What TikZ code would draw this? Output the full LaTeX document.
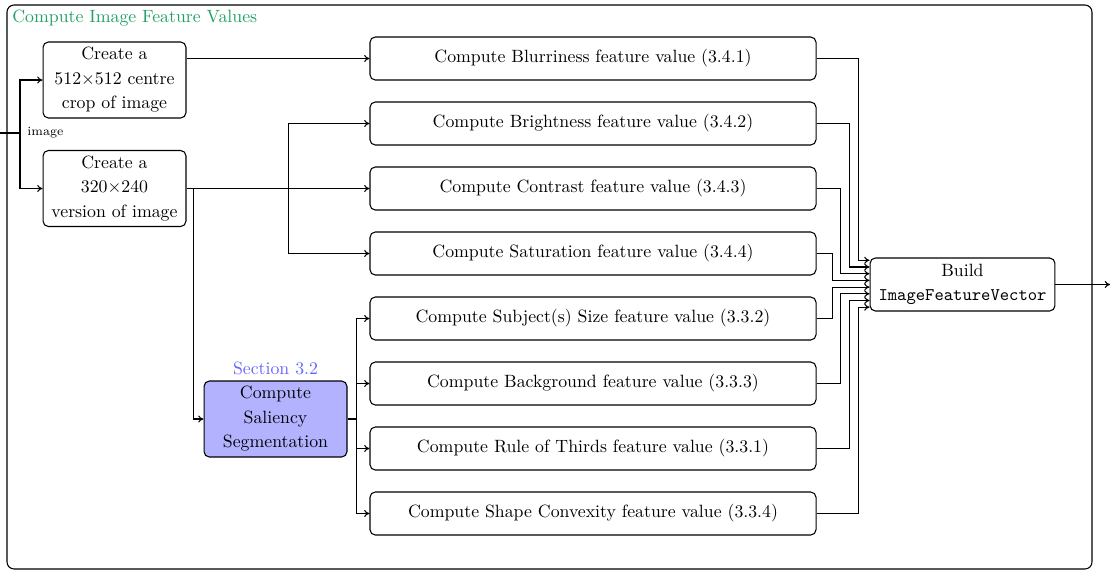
\documentclass[tikz,border=0pt]{standalone}
\usetikzlibrary{calc,arrows.meta}
\definecolor{titlegreen}{RGB}{34,160,100}
\definecolor{secblue}{RGB}{102,102,255}
\definecolor{salfill}{RGB}{178,178,255}
\begin{document}
\begin{tikzpicture}[x=0.5625pt,y=-0.5625pt,
  box/.style={draw, rounded corners=3pt, align=center, inner sep=2pt,
    line width=0.6pt, font=\fontsize{10}{13.8}\selectfont},
  feat/.style={box, minimum width=250.9pt, minimum height=24.2pt},
  prep/.style={box, minimum width=80.4pt, minimum height=42.75pt},
  link/.style={-{To[length=3pt,width=4pt]}, line width=0.6pt},
  plain/.style={line width=0.6pt}]
\useasboundingbox (0,0) rectangle (1110,572);

% enclosing frame and its title
\draw[plain, rounded corners=4pt] (7,5) rectangle (1092,569);
\node[anchor=west, inner sep=0pt, text=titlegreen] (title) at (12,18) {Compute Image Feature Values};

% preparation steps
\node[prep] (crop) at (114.5,80) {Create a\\512$\times$512 centre\\crop of image};
\node[prep] (small) at (114.5,188.5) {Create a\\320$\times$240\\version of image};
\node[prep, fill=salfill] (sal) at (275.5,419) {Compute\\Saliency\\Segmentation};
\node[text=secblue, inner sep=0pt] (sec) at (275.5,368) {Section 3.2};

% feature computations
\node[feat] (r1) at (593,58.5)  {Compute Blurriness feature value (3.4.1)};
\node[feat] (r2) at (593,123.5) {Compute Brightness feature value (3.4.2)};
\node[feat] (r3) at (593,188.5) {Compute Contrast feature value (3.4.3)};
\node[feat] (r4) at (593,253.5) {Compute Saturation feature value (3.4.4)};
\node[feat] (r5) at (593,318.5) {Compute Subject(s) Size feature value (3.3.2)};
\node[feat] (r6) at (593,383.5) {Compute Background feature value (3.3.3)};
\node[feat] (r7) at (593,448.5) {Compute Rule of Thirds feature value (3.3.1)};
\node[feat] (r8) at (593,513.5) {Compute Shape Convexity feature value (3.3.4)};

% collector
\node[box, minimum width=104pt, minimum height=29.8pt] (build) at (962.5,284.5)
  {Build\\\texttt{ImageFeatureVector}};

% input
\coordinate (in) at (0,133);
\coordinate (split) at (20,133);
\draw[plain] (in) -- (split);
\draw[link] (split) |- (crop.west);
\draw[link] (split) |- (small.west);
\node[anchor=west, inner sep=0pt, font=\scriptsize] (imglabel) at (27,133) {image};

% preparation to features
\draw[link] (crop.east |- r1.west) -- (r1.west);
\draw[link] (small.east) -- (r3.west);
\draw[link] (small.east) -- ++(102,0) |- (r2.west);
\draw[link] (small.east) -- ++(102,0) |- (r4.west);
\draw[link] (small.east) -- ++(7,0) |- (sal.west);
\foreach \i in {5,6,7,8}
  \draw[link] (sal.east) -- ++(9,0) |- (r\i.west);

% features to collector
\foreach \i in {1,...,8}
  \coordinate (p\i) at ($(build.north west)+(0,{2.8+(\i-1)*6.7})$);
\foreach \i/\d in {1/42,2/33,3/24,4/16,5/16,6/24,7/33,8/42}
  \draw[link] (r\i.east) -- ++(\d,0) |- (p\i);

% output
\coordinate (out) at (1110,284.5);
\draw[link] (build.east) -- (out);
\end{tikzpicture}
\end{document}
